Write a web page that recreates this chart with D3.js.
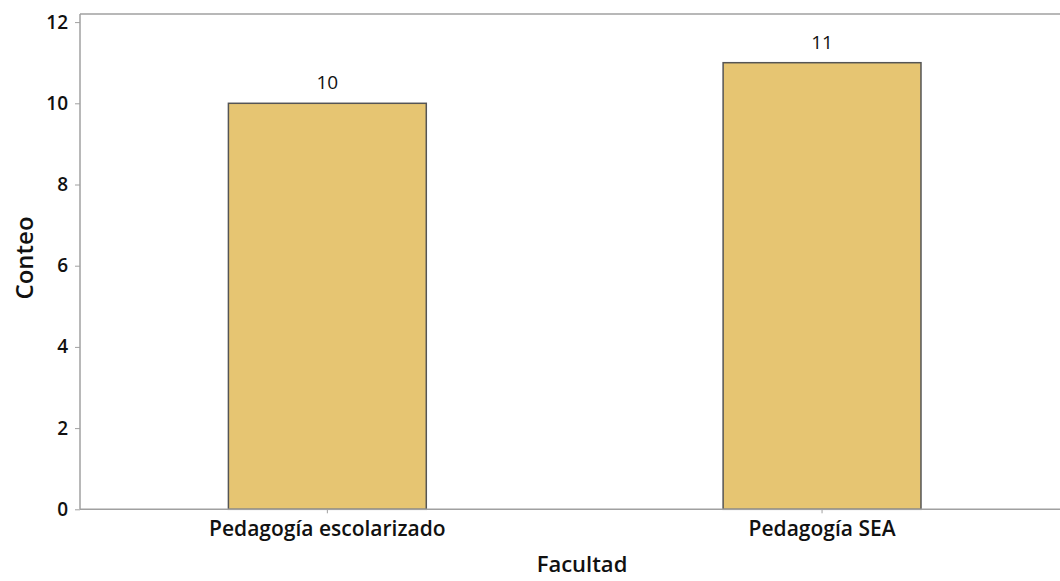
<!DOCTYPE html>
<html>
<head>
<meta charset="utf-8">
<script src="https://cdn.jsdelivr.net/npm/d3@7"></script>
<style>
  body { margin: 0; background: #fff; }
  svg text { font-family: "Open Sans", "Noto Sans", sans-serif; fill: #111; }
</style>
</head>
<body>
<svg id="chart"></svg>
<script>
var categories = ["Pedagogía escolarizado", "Pedagogía SEA"];
var counts = [10, 11];
var yTicks = [0, 2, 4, 6, 8, 10, 12];

var width = 1060, height = 581;
var margin = {top: 14, left: 80, bottom: 72};
var plotBottom = height - margin.bottom + 0.3;

var svg = d3.select("#chart")
  .attr("width", width)
  .attr("height", height);

var x = d3.scaleBand()
  .domain(categories)
  .range([margin.left, 1069.4])
  .paddingInner(0.6)
  .paddingOuter(0.3);

var y = d3.scaleLinear()
  .domain([0, 12])
  .range([plotBottom, 22.1]);

// top frame line
svg.append("line")
  .attr("x1", margin.left).attr("x2", width)
  .attr("y1", margin.top).attr("y2", margin.top)
  .attr("stroke", "#a0a0a0").attr("stroke-width", 1.5);

// bars
svg.append("g")
  .selectAll("rect")
  .data(counts)
  .enter().append("rect")
    .attr("x", function(d, i) { return x(categories[i]); })
    .attr("y", function(d) { return y(d); })
    .attr("width", x.bandwidth())
    .attr("height", function(d) { return y(0) - y(d); })
    .attr("fill", "#e6c572")
    .attr("stroke", "#555")
    .attr("stroke-width", 1.5);

// value labels
svg.append("g")
  .selectAll("text")
  .data(counts)
  .enter().append("text")
    .attr("x", function(d, i) { return x(categories[i]) + x.bandwidth() / 2; })
    .attr("y", function(d) { return y(d) - 14; })
    .attr("text-anchor", "middle")
    .attr("font-size", 19)
    .text(function(d) { return d; });

// y axis
var yAxis = svg.append("g")
  .attr("transform", "translate(" + margin.left + ",0)")
  .call(d3.axisLeft(y).tickValues(yTicks).tickSize(5).tickPadding(7));
yAxis.select(".domain").attr("stroke", "#a0a0a0").attr("stroke-width", 1.5)
  .attr("d", "M0," + margin.top + "V" + plotBottom);
yAxis.selectAll(".tick line").attr("stroke", "#a0a0a0");
yAxis.selectAll(".tick text")
  .attr("font-size", 19).attr("font-weight", 600).attr("fill", "#111")
  .style("font-family", "'Open Sans', sans-serif");

// x axis
var xAxis = svg.append("g")
  .attr("transform", "translate(0," + plotBottom + ")")
  .call(d3.axisBottom(x).tickSize(4).tickPadding(8));
xAxis.select(".domain").attr("stroke", "#a0a0a0").attr("stroke-width", 1.5)
  .attr("d", "M" + margin.left + ",0H" + width);
xAxis.selectAll(".tick line").attr("stroke", "#a0a0a0");
xAxis.selectAll(".tick text")
  .attr("font-size", 21).attr("font-weight", 600).attr("fill", "#111")
  .style("font-family", "'Open Sans', sans-serif");

// axis titles
svg.append("text")
  .attr("x", 582).attr("y", 572)
  .attr("text-anchor", "middle")
  .attr("font-size", 22).attr("font-weight", 600)
  .text("Facultad");

svg.append("text")
  .attr("transform", "translate(33,258) rotate(-90)")
  .attr("text-anchor", "middle")
  .attr("font-size", 24).attr("font-weight", 600)
  .text("Conteo");
</script>
</body>
</html>
